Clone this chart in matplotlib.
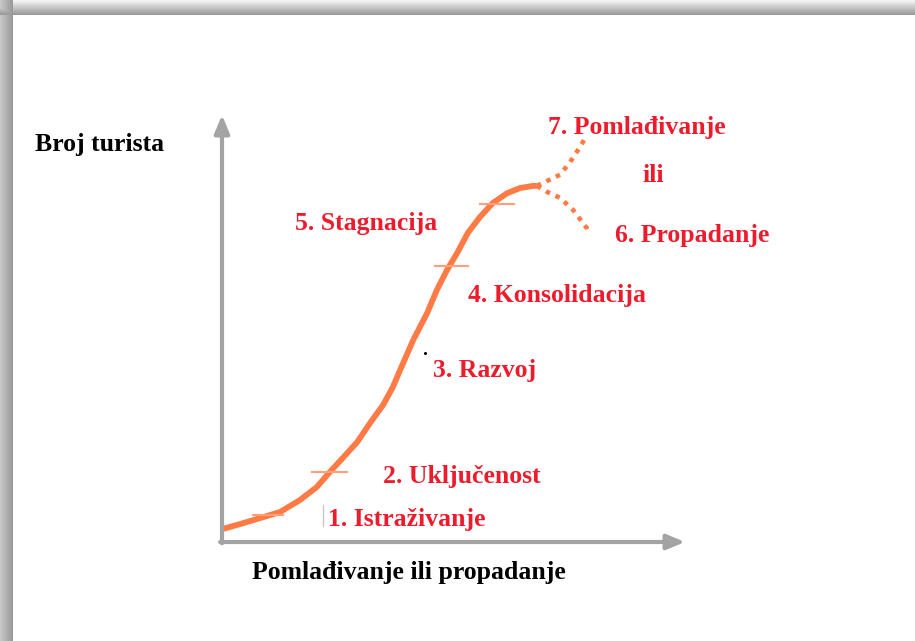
import numpy as np
import matplotlib.pyplot as plt

# Butlerov model zivotnog ciklusa destinacije (vrijeme, broj turista 0-100)
krivulja_x = [0, 3.9, 8.2, 12.5, 16.8, 20.5, 23.3, 26.1, 29.2, 32.0, 34.8,
              36.9, 38.6, 41.3, 44.3, 46.4, 48.6, 50.8, 53.1, 55.7, 58.5,
              61.6, 64.4, 67.2, 68.0]
krivulja_y = [3.0, 4.2, 5.6, 7.0, 9.8, 12.9, 16.4, 19.7, 23.4, 27.9, 32.1,
              36.3, 40.6, 47.3, 53.6, 59.0, 63.7, 67.7, 72.4, 76.1, 79.4,
              81.7, 82.9, 83.4, 83.4]

# grane nakon stagnacije
gore_x = [68.0, 69.3, 73.0, 75.2, 77.3, 78.2]
gore_y = [83.4, 84.1, 86.0, 89.0, 92.5, 94.1]
dolje_x = [68.0, 70.2, 73.0, 75.8, 78.8, 79.3]
dolje_y = [83.4, 82.0, 80.6, 77.8, 73.5, 72.1]

# granice faza (crtice na krivulji)
granice_x = [9.9, 23.3, 49.5, 59.4]
granice_y = [6.3, 16.4, 64.6, 79.2]
granice_pola = [3.3, 3.8, 3.6, 3.6]

faze = ["1. Istraživanje", "2. Uključenost", "3. Razvoj", "4. Konsolidacija",
        "5. Stagnacija", "6. Propadanje", "ili", "7. Pomlađivanje"]
faze_x = [22.9, 34.8, 45.6, 53.1, 15.8, 84.9, 90.9, 70.4]
faze_y = [5.3, 15.4, 40.2, 57.8, 74.5, 71.7, 85.8, 97.1]

W, H = 915, 641
fig = plt.figure(figsize=(W / 100, H / 100), dpi=100)

# siva sjena okvira gore i lijevo
bg = fig.add_axes([0, 0, 1, 1])
img = np.ones((H, W))
top, left = 15, 13
img[:top, :] = np.linspace(0.96, 0.6, top)[:, None]
img[:, :left] = np.minimum(img[:, :left], np.linspace(0.78, 0.6, left)[None, :])
bg.imshow(img, cmap="gray", vmin=0, vmax=1, aspect="auto", interpolation="bilinear")
bg.axis("off")

ax = fig.add_axes([222 / W, (H - 542) / H, 463 / W, 427 / H])
ax.set_xlim(0, 100)
ax.set_ylim(0, 100)
ax.axis("off")
ax.patch.set_alpha(0)

siva = "#a3a3a3"
strelica = dict(arrowstyle="-|>,head_width=0.25,head_length=0.6", color=siva,
                lw=3, mutation_scale=18, shrinkA=0, shrinkB=0)
ax.annotate("", xy=(0, 100), xytext=(0, -0.3), arrowprops=strelica, annotation_clip=False)
ax.annotate("", xy=(100, 0), xytext=(-0.4, 0), arrowprops=strelica, annotation_clip=False)

narancasta = "#ff7a45"
ax.plot(krivulja_x, krivulja_y, color=narancasta, lw=4.2, solid_capstyle="butt",
        solid_joinstyle="round", clip_on=False)
ax.plot(gore_x, gore_y, color=narancasta, lw=3.3, ls=(0, (1, 1.3)), dash_capstyle="butt")
ax.plot(dolje_x, dolje_y, color=narancasta, lw=3.3, ls=(0, (1, 1.3)), dash_capstyle="butt")

for gx, gy, gp in zip(granice_x, granice_y, granice_pola):
    ax.plot([gx - gp, gx + gp], [gy, gy], color="#ffa07a", lw=1.5)

# sitne oznake iz originala
ax.plot([21.8, 21.8], [3.7, 8.7], color="#c8c8c8", lw=1)
ax.plot([43.8], [44.3], marker="o", ms=1.2, color="black")

crvena = "#ec1c2c"
for t, fx, fy in zip(faze, faze_x, faze_y):
    ax.text(fx, fy, t, color=crvena, fontsize=18.5, fontweight="bold",
            family="Liberation Serif", ha="left", va="center", clip_on=False)

fig.text(35 / W, 1 - 144 / H, "Broj turista", fontsize=18.5, fontweight="bold",
         family="Liberation Serif", ha="left", va="center")
fig.text(252 / W, 1 - 573 / H, "Pomlađivanje ili propadanje", fontsize=18.5,
         fontweight="bold", family="Liberation Serif", ha="left", va="center")

fig.savefig("out.png", dpi=100)
